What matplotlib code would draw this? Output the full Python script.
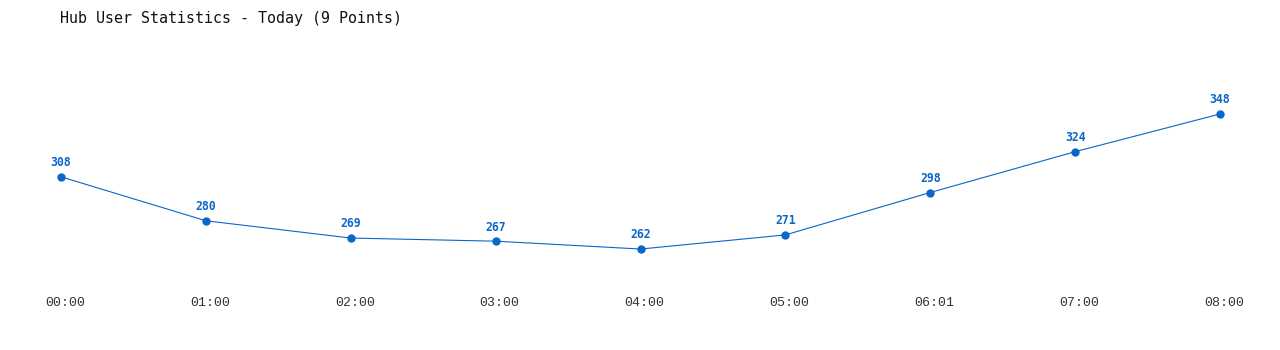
import matplotlib
matplotlib.use("Agg")
import matplotlib.pyplot as plt
import matplotlib.transforms as mtransforms

times = ["00:00", "01:00", "02:00", "03:00", "04:00", "05:00", "06:01", "07:00", "08:00"]
users = [308, 280, 269, 267, 262, 271, 298, 324, 348]
title = "Hub User Statistics - Today (9 Points)"

W, H = 1280, 350
fig = plt.figure(figsize=(W / 100, H / 100), dpi=100)
ax = fig.add_axes([0, 0, 1, 1])
ax.set_axis_off()

color = "#0a66c8"
xs = list(range(len(times)))
ax.plot(xs, users, color=color, lw=0.8, marker="o", markersize=5, zorder=3)
ax.set_xlim(-0.421, 8.414)
ax.set_ylim(197.7, 420.6)

for x, v in zip(xs, users):
    ax.annotate(str(v), (x, v), xytext=(0, 5.5), textcoords="offset points",
                ha="center", va="bottom", fontsize=8.3, fontweight="bold",
                color=color, family="DejaVu Sans Mono")

trans = mtransforms.blended_transform_factory(ax.transData, ax.transAxes)
offset = mtransforms.ScaledTranslation(4 / 100, 0, fig.dpi_scale_trans)
for x, t in zip(xs, times):
    ax.text(x, 1 - 303 / H, t, transform=trans + offset, ha="center", va="center",
            fontsize=9.5, color="#333333", family="Liberation Mono")

fig.text(60 / W, 1 - 18 / H, title, ha="left", va="center", fontsize=10.8,
         color="#111111", family="DejaVu Sans Mono")

fig.savefig("out.png", dpi=100, facecolor="white")
